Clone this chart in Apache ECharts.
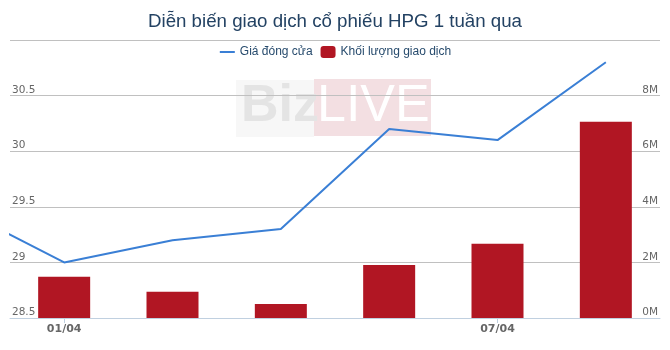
<!DOCTYPE html>
<html>
<head>
<meta charset="utf-8">
<script src="https://cdn.jsdelivr.net/npm/echarts@6/dist/echarts.min.js"></script>
<style>
html,body{margin:0;padding:0;background:#fff;}
#chart{width:670px;height:350px;}
</style>
</head>
<body>
<div id="chart"></div>
<script>
// ---- data ----
const dates = ['01/04', '04/04', '05/04', '06/04', '07/04', '08/04'];
const closePrice = [29.0, 29.2, 29.3, 30.2, 30.1, 30.8];
const prevClose = 29.5; // previous session (31/03), only partly visible at left edge
const volume = [1480000, 940000, 500000, 1910000, 2670000, 7060000];
const labelDates = ['01/04', '07/04'];
const priceTicks = [28.5, 29, 29.5, 30, 30.5, 31];
const volumeTicks = [0, 2000000, 4000000, 6000000, 8000000, 10000000];

const seriesNames = ['Giá đóng cửa', 'Khối lượng giao dịch'];

const lineData = [[-1, prevClose]].concat(closePrice.map((v, i) => [i, v]));
const barData = volume.map((v, i) => [i, v]);
const labelIdx = labelDates.map(d => dates.indexOf(d));

const chart = echarts.init(document.getElementById('chart'));
chart.setOption({
  animation: false,
  backgroundColor: '#ffffff',
  title: {
    text: 'Diễn biến giao dịch cổ phiếu HPG 1 tuần qua',
    left: 'center',
    top: 7,
    textStyle: { fontFamily: 'Liberation Sans', fontSize: 18.7, fontWeight: 'normal', color: '#234263' }
  },
  legend: {
    top: 41,
    left: 'center',
    itemWidth: 15,
    itemHeight: 12,
    itemGap: 8,
    textStyle: { fontFamily: 'Liberation Sans', fontSize: 12, color: '#274b6d' },
    data: [
      { name: seriesNames[0], itemStyle: { opacity: 0 } },
      { name: seriesNames[1], icon: 'roundRect' }
    ]
  },
  graphic: [
    { type: 'rect', z: -10, shape: { x: 236, y: 80, width: 78, height: 57 }, style: { fill: '#f7f7f7' } },
    { type: 'text', z: -9, x: 241, y: 133, style: { text: 'Biz', fontFamily: 'Liberation Sans', fontWeight: 'bold', fontSize: 52, fill: '#e4e4e4', textVerticalAlign: 'bottom' } },
    { type: 'rect', z: -10, shape: { x: 314, y: 79, width: 117, height: 57 }, style: { fill: '#f3dfe2' } },
    { type: 'text', z: -9, x: 317, y: 133, style: { text: 'LIVE', fontFamily: 'Liberation Sans', fontWeight: 'normal', fontSize: 52, fill: '#ffffff', textVerticalAlign: 'bottom' } }
  ],
  grid: { left: 10, right: 10, top: 40, bottom: 32, containLabel: false },
  xAxis: {
    type: 'value',
    min: -0.5,
    max: dates.length - 0.5,
    splitLine: { show: false },
    axisLine: { show: true, lineStyle: { color: '#c0d0e0', width: 1 } },
    axisTick: { show: true, customValues: labelIdx, length: 5, lineStyle: { color: '#c0d0e0' } },
    axisLabel: {
      customValues: labelIdx,
      formatter: v => dates[Math.round(v)],
      margin: 6,
      fontFamily: 'DejaVu Sans',
      fontWeight: 'bold',
      fontSize: 11,
      color: '#666666'
    }
  },
  yAxis: [
    {
      type: 'value',
      min: priceTicks[0],
      max: priceTicks[priceTicks.length - 1],
      interval: 0.5,
      position: 'left',
      axisLine: { show: false },
      axisTick: { show: false },
      splitLine: { show: true, showMinLine: false, lineStyle: { color: '#c0c0c0', width: 1 } },
      axisLabel: {
        inside: true,
        margin: 2,
        showMaxLabel: false,
        verticalAlign: 'bottom',
        fontFamily: 'DejaVu Sans',
        fontSize: 10.5,
        color: '#666666'
      }
    },
    {
      type: 'value',
      min: volumeTicks[0],
      max: volumeTicks[volumeTicks.length - 1],
      interval: 2000000,
      position: 'right',
      axisLine: { show: false },
      axisTick: { show: false },
      splitLine: { show: false },
      axisLabel: {
        inside: true,
        margin: 2,
        showMaxLabel: false,
        verticalAlign: 'bottom',
        formatter: v => (v / 1000000) + 'M',
        fontFamily: 'DejaVu Sans',
        fontSize: 10.5,
        color: '#666666'
      }
    }
  ],
  series: [
    {
      name: seriesNames[1],
      type: 'bar',
      yAxisIndex: 1,
      barWidth: 52,
      itemStyle: { color: '#b11623' },
      data: barData,
      z: 2
    },
    {
      name: seriesNames[0],
      type: 'line',
      yAxisIndex: 0,
      symbol: 'none',
      clip: true,
      lineStyle: { color: '#3a7fd5', width: 2 },
      itemStyle: { color: '#3a7fd5' },
      data: lineData,
      z: 3
    }
  ]
});
</script>
</body>
</html>
